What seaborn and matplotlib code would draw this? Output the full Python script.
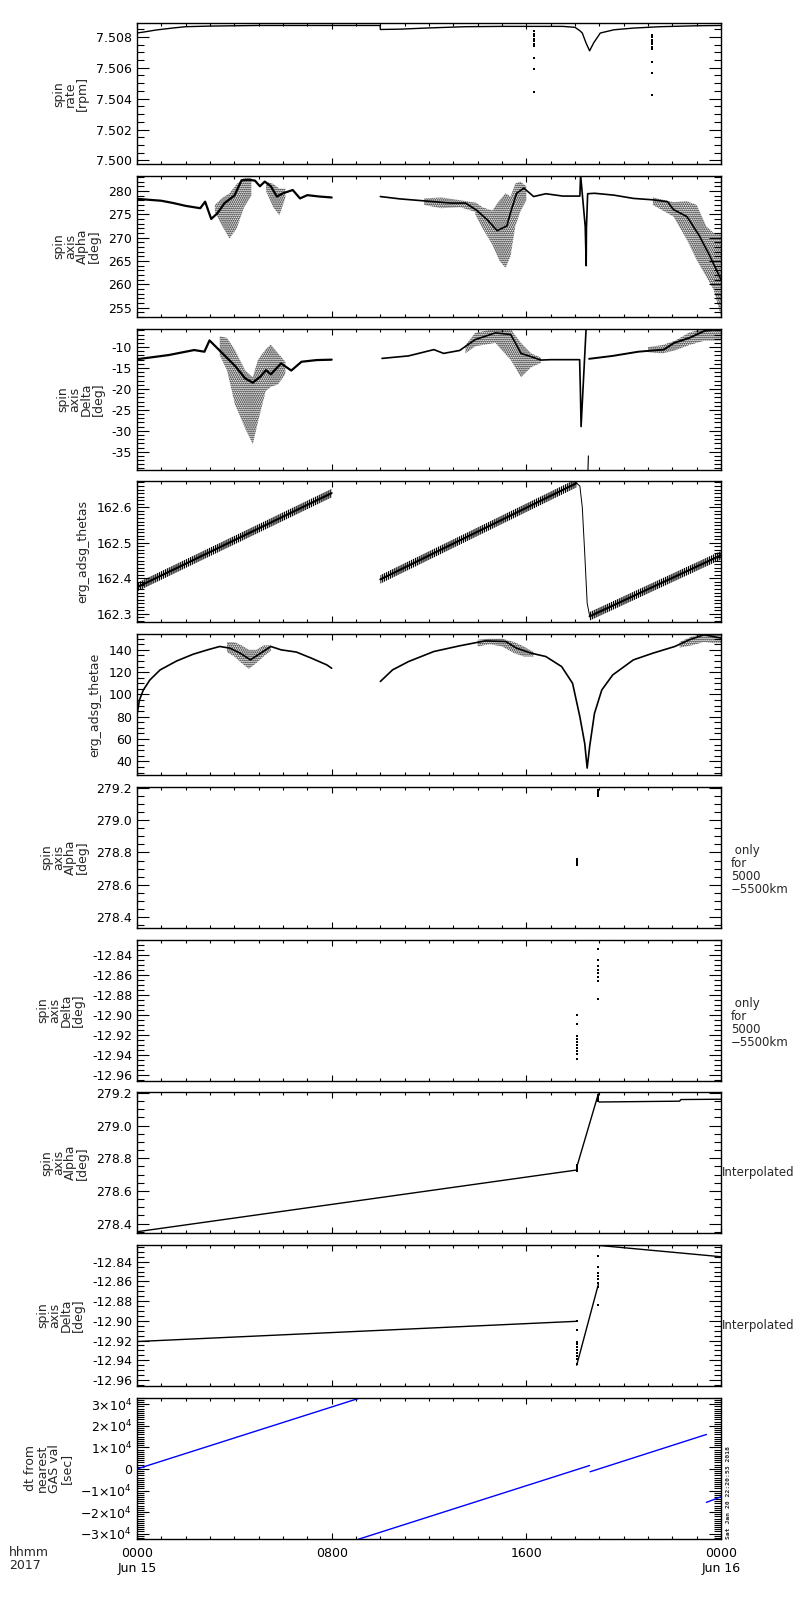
import matplotlib
matplotlib.use("Agg")
import matplotlib.pyplot as plt
import seaborn as sns
from matplotlib.ticker import MultipleLocator, FormatStrFormatter, FuncFormatter

# ---- data (time in hours of 2017-06-15) ----
rate_t = [0.0, 0.3, 0.8, 1.5, 2.0, 3.0, 5.0, 7.0, 9.99, 10.0, 10.8, 12.0, 13.5, 15.0, 16.3,
          17.5, 18.0, 18.2, 18.3, 18.45, 18.6, 18.77, 19.04, 19.6, 20.4, 21.5, 23.0, 24.0]
rate_v = [7.50825, 7.50832, 7.50845, 7.50858, 7.50866, 7.50870, 7.50874, 7.50874, 7.50874,
          7.50848, 7.50850, 7.50858, 7.50866, 7.50868, 7.50868, 7.50868, 7.50862, 7.50840,
          7.50825, 7.50762, 7.50710, 7.50762, 7.50825, 7.50846, 7.50857, 7.50866, 7.50872,
          7.50874]
rate_out1_t = [16.33, 16.33, 16.33, 16.33, 16.33, 16.33, 16.33, 16.33, 16.33, 16.33]
rate_out1_v = [7.50836, 7.50820, 7.50804, 7.50788, 7.50773, 7.50757, 7.50741, 7.50661,
               7.50592, 7.50440]
rate_out2_t = [21.15, 21.15, 21.15, 21.15, 21.15, 21.15, 21.15, 21.15, 21.15, 21.15]
rate_out2_v = [7.50815, 7.50799, 7.50783, 7.50768, 7.50752, 7.50736, 7.50720, 7.50636,
               7.50568, 7.50425]

alpha_a_t = [0.0, 0.5, 1.0, 1.5, 2.0, 2.6, 2.8, 3.05, 3.3, 3.6, 4.0, 4.3, 4.6, 4.85, 5.05,
             5.25, 5.5, 5.75, 6.0, 6.4, 6.7, 7.0, 7.5, 8.0]
alpha_a_v = [278.3, 278.1, 277.9, 277.4, 276.8, 276.3, 277.7, 274.0, 275.2, 277.4, 279.0,
             282.3, 282.4, 282.2, 281.0, 282.0, 281.0, 278.8, 279.5, 280.2, 278.4, 279.1,
             278.8, 278.6]
alpha_b_t = [10.0, 10.8, 11.5, 12.2, 12.9, 13.5, 13.95, 14.4, 14.8, 15.2, 15.33, 15.6, 15.9,
             16.3, 16.8, 17.5, 18.2, 18.23, 18.42, 18.46, 18.47, 18.52, 18.8, 19.6, 20.4,
             21.2, 21.8, 22.05, 22.6, 23.1, 23.5, 24.0]
alpha_b_v = [278.8, 278.3, 278.0, 277.7, 277.4, 277.4, 275.9, 273.8, 271.5, 272.5, 275.0,
             279.5, 280.6, 278.8, 279.4, 278.9, 278.9, 283.4, 272.4, 264.0, 272.0, 279.4,
             279.5, 279.1, 278.4, 278.1, 277.7, 276.0, 274.5, 270.5, 266.5, 261.0]
alpha_clouds = [
    ([3.2, 3.5, 3.8, 4.1, 4.4, 4.7],
     [275.5, 272.5, 269.8, 272.0, 276.5, 279.0],
     [277.0, 278.5, 279.5, 281.5, 282.8, 282.8]),
    ([5.3, 5.6, 5.85, 6.1],
     [280.0, 276.5, 274.8, 278.5],
     [282.0, 281.5, 280.5, 280.5]),
    ([11.8, 12.5, 13.3, 13.9],
     [277.0, 276.3, 276.5, 275.5],
     [278.4, 278.6, 278.0, 277.5]),
    ([13.9, 14.2, 14.6, 14.9, 15.15, 15.35, 15.55, 15.75, 16.0],
     [275.0, 272.0, 268.5, 265.0, 263.5, 266.0, 272.5, 275.5, 278.0],
     [277.6, 276.5, 275.8, 278.0, 279.5, 278.8, 281.6, 282.0, 281.0]),
    ([21.2, 22.05, 22.6, 23.0, 23.4, 23.7, 24.0],
     [277.0, 274.5, 269.5, 265.2, 261.6, 258.8, 253.2],
     [278.6, 277.6, 277.8, 277.0, 272.4, 271.0, 271.0]),
]

delta_a_t = [0.0, 1.3, 2.35, 2.77, 2.98, 3.29, 3.6, 4.03, 4.45, 4.76, 5.08, 5.3, 5.5, 5.92,
             6.34, 6.76, 7.38, 8.0]
delta_a_v = [-12.9, -11.9, -10.7, -11.1, -8.4, -10.2, -12.0, -14.5, -17.5, -18.5, -17.0,
             -15.5, -16.5, -13.9, -15.6, -13.5, -13.1, -13.0]
delta_b_t = [10.07, 11.16, 12.2, 12.6, 13.26, 13.9, 14.73, 15.36, 15.78, 16.2, 16.6, 17.0,
             18.19, 18.22, 18.25, 18.47]
delta_b_v = [-12.7, -12.1, -10.6, -11.5, -10.8, -8.2, -6.6, -7.0, -11.5, -12.3, -13.1,
             -13.0, -13.0, -20.0, -29.0, -4.0]
delta_c_t = [18.52, 18.55]
delta_c_v = [-42.0, -36.0]
delta_d_t = [18.58, 19.55, 20.6, 21.65, 22.07, 22.7, 23.33, 24.0]
delta_d_v = [-12.8, -12.1, -11.1, -10.6, -9.0, -7.8, -6.1, -5.7]
delta_clouds = [
    ([3.4, 3.7, 4.03, 4.45, 4.76, 4.97, 5.29, 5.5, 5.8, 6.1],
     [-12.0, -15.6, -23.8, -29.5, -33.2, -27.9, -20.5, -19.5, -18.9, -16.4],
     [-7.4, -7.8, -10.7, -15.6, -17.2, -13.0, -10.5, -9.4, -11.5, -13.5]),
    ([13.5, 13.9, 14.73, 15.36, 15.78, 16.2, 16.6],
     [-11.5, -9.8, -9.0, -13.1, -17.2, -14.8, -13.8],
     [-9.5, -6.6, -5.6, -5.7, -9.0, -11.5, -12.5]),
    ([21.0, 21.6, 22.1, 22.7, 23.3, 24.0],
     [-11.2, -11.5, -10.8, -9.5, -8.5, -8.5],
     [-10.0, -9.5, -8.5, -6.5, -5.6, -5.6]),
]

thetas_a_t = [0.0, 8.0]
thetas_a_v = [162.375, 162.640]
thetas_b_t = [10.0, 18.06]
thetas_b_v = [162.397, 162.668]
thetas_drop_t = [18.06, 18.2, 18.3, 18.4, 18.5, 18.6]
thetas_drop_v = [162.668, 162.660, 162.600, 162.470, 162.330, 162.295]
thetas_c_t = [18.6, 24.0]
thetas_c_v = [162.293, 162.465]
thetas_halfwidth = 0.012

thetae_a_t = [0.0, 0.1, 0.26, 0.53, 0.95, 1.63, 2.3, 2.9, 3.4, 3.82, 4.24, 4.66, 5.08, 5.5,
              5.92, 6.55, 7.17, 7.8, 8.0]
thetae_a_v = [82, 95, 104, 113, 122, 130, 136, 140, 143, 141.5, 137, 131, 137, 143, 140,
              138, 132.5, 126.5, 123.5]
thetae_b_t = [10.0, 10.5, 11.16, 12.2, 13.26, 14.3, 15.15, 15.6, 16.2, 16.8, 17.45, 17.9,
              18.2, 18.4, 18.5, 18.6, 18.8, 19.1, 19.55, 20.4, 21.2, 22.1, 22.7, 23.3, 24.0]
thetae_b_v = [111.6, 122, 129.5, 138.5, 143.6, 148, 147.5, 141.5, 137, 134, 125, 110, 80,
              56, 34, 53, 83, 104, 117.5, 131, 137, 143, 149, 153.5, 150.5]
thetae_clouds = [
    ([3.7, 4.0, 4.3, 4.6, 4.9, 5.2, 5.5],
     [138, 134, 128, 123, 128, 134, 139],
     [147, 147, 144, 140, 140, 144, 144]),
    ([14.0, 14.5, 15.0, 15.5, 15.9, 16.3],
     [143, 145, 143, 137, 134, 134],
     [149, 150, 150, 147, 143, 138]),
    ([22.3, 22.8, 23.3, 23.7, 24.0],
     [142, 144, 147, 146, 146],
     [147, 152, 154, 154, 153]),
]

# attitude values only for 5000-5500 km
only_alpha_t = [18.08, 18.08, 18.08, 18.08, 18.08, 18.08, 18.96, 18.96, 18.96, 18.96]
only_alpha_v = [278.725, 278.732, 278.739, 278.746, 278.753, 278.760,
                279.150, 279.163, 279.176, 279.190]
only_delta_t = [18.08, 18.08, 18.08, 18.08, 18.08, 18.08, 18.08, 18.08, 18.08, 18.08,
                18.96, 18.96, 18.96, 18.96, 18.96, 18.96, 18.96, 18.96]
only_delta_v = [-12.900, -12.909, -12.921, -12.924, -12.927, -12.930, -12.933, -12.936,
                -12.939, -12.944, -12.834, -12.845, -12.851, -12.855, -12.858, -12.862,
                -12.866, -12.884]

# interpolated attitude
interp_alpha = [([0.0, 18.06], [278.350, 278.728]),
                ([18.07, 18.96], [278.745, 279.195]),
                ([18.99, 22.3, 22.35, 24.0], [279.145, 279.150, 279.160, 279.162])]
interp_delta = [([0.0, 18.06], [-12.921, -12.9005]),
                ([18.07, 18.96], [-12.945, -12.863]),
                ([18.97, 24.0], [-12.8235, -12.835])]

# dt from nearest GAS value [sec]
dt_segments = [([0.0, 9.1], [0, 32700]),
               ([9.1, 18.6], [-32600, 1600]),
               ([18.62, 23.4], [-1300, 16000]),
               ([23.4, 24.0], [-15500, -12900])]

xtick_vals = [0, 8, 16, 24]
xtick_text = ["0000\nJun 15", "0800", "1600", "0000\nJun 16"]

# ---- figure ----
sns.set_style("ticks")
plt.rcParams["font.family"] = ["DejaVu Sans"]
plt.rcParams["axes.linewidth"] = 1.0
plt.rcParams["hatch.linewidth"] = 0.9

fig = plt.figure(figsize=(8, 16), dpi=100)
W, H = 800.0, 1600.0
LEFT, RIGHT = 137, 721


def make_ax(i):
    top = 23.3 + i * 152.7
    return fig.add_axes([LEFT / W, 1 - (top + 141) / H, (RIGHT - LEFT) / W, 141 / H])


def line(ax, t, v, color="k", lw=0.8):
    sns.lineplot(x=t, y=v, ax=ax, color=color, lw=lw, sort=False, estimator=None)


def cloud(ax, t, lo, hi):
    ax.fill_between(t, lo, hi, facecolor="none", edgecolor="k", hatch="........", linewidth=0)


def dots(ax, t, v, s=2.5):
    sns.scatterplot(x=t, y=v, ax=ax, color="k", s=s, marker="s", linewidth=0)


def style(ax, ylim, major, minor, fmt, label, bottom=False):
    ax.set_xlim(0, 24)
    ax.set_ylim(*ylim)
    ax.xaxis.set_major_locator(MultipleLocator(8))
    ax.xaxis.set_minor_locator(MultipleLocator(1))
    ax.yaxis.set_major_locator(MultipleLocator(major))
    ax.yaxis.set_minor_locator(MultipleLocator(minor))
    if callable(fmt):
        ax.yaxis.set_major_formatter(FuncFormatter(fmt))
    else:
        ax.yaxis.set_major_formatter(FormatStrFormatter(fmt))
    ax.tick_params(which="both", direction="in", top=True, right=True, labelsize=9,
                   width=0.8, colors="k")
    ax.tick_params(axis="y", which="major", length=8.5)
    ax.tick_params(axis="y", which="minor", length=5)
    ax.tick_params(axis="x", which="major", length=4, pad=6)
    ax.tick_params(axis="x", which="minor", length=2.5)
    if bottom:
        ax.set_xticks(xtick_vals)
        ax.set_xticklabels(xtick_text)
    else:
        ax.tick_params(axis="x", labelbottom=False)
    ax.set_xlabel("")
    ax.set_ylabel(label, fontsize=9, linespacing=0.9, labelpad=5)
    for sp in ax.spines.values():
        sp.set_visible(True)
        sp.set_color("k")


# 1 spin rate
ax = make_ax(0)
line(ax, rate_t, rate_v, lw=1.0)
dots(ax, rate_out1_t, rate_out1_v)
dots(ax, rate_out2_t, rate_out2_v)
style(ax, (7.49975, 7.50888), 0.002, 0.0005, "%.3f", "spin\nrate\n[rpm]")

# 2 spin axis alpha
ax = make_ax(1)
for t, lo, hi in alpha_clouds:
    cloud(ax, t, lo, hi)
line(ax, alpha_a_t, alpha_a_v, lw=1.6)
line(ax, alpha_b_t, alpha_b_v, lw=1.2)
style(ax, (253.0, 283.2), 5, 1, "%d", "spin\naxis\nAlpha\n[deg]")

# 3 spin axis delta
ax = make_ax(2)
for t, lo, hi in delta_clouds:
    cloud(ax, t, lo, hi)
line(ax, delta_a_t, delta_a_v, lw=1.6)
line(ax, delta_b_t, delta_b_v, lw=1.2)
line(ax, delta_c_t, delta_c_v, lw=0.8)
line(ax, delta_d_t, delta_d_v, lw=1.4)
style(ax, (-39.3, -5.6), 5, 1, "%d", "spin\naxis\nDelta\n[deg]")

# 4 thetas
ax = make_ax(3)
for t, v in [(thetas_a_t, thetas_a_v), (thetas_b_t, thetas_b_v), (thetas_c_t, thetas_c_v)]:
    lo = [x - thetas_halfwidth for x in v]
    hi = [x + thetas_halfwidth for x in v]
    ax.fill_between(t, lo, hi, facecolor="none", edgecolor="k", hatch="||||||||", linewidth=0)
    line(ax, t, v, lw=1.5)
line(ax, thetas_drop_t, thetas_drop_v, lw=0.7)
style(ax, (162.276, 162.673), 0.1, 0.01, "%.1f", "erg_adsg_thetas")

# 5 thetae
ax = make_ax(4)
for t, lo, hi in thetae_clouds:
    cloud(ax, t, lo, hi)
line(ax, thetae_a_t, thetae_a_v, lw=1.2)
line(ax, thetae_b_t, thetae_b_v, lw=1.2)
style(ax, (27.7, 154.1), 20, 5, "%d", "erg_adsg_thetae")

# 6 alpha only 5000-5500 km
ax = make_ax(5)
dots(ax, only_alpha_t, only_alpha_v)
style(ax, (278.332, 279.208), 0.2, 0.05, "%.1f", "spin\naxis\nAlpha\n[deg]")

# 7 delta only 5000-5500 km
ax = make_ax(6)
dots(ax, only_delta_t, only_delta_v)
style(ax, (-12.966, -12.8247), 0.02, 0.005, "%.2f", "spin\naxis\nDelta\n[deg]")

# 8 interpolated alpha
ax = make_ax(7)
for t, v in interp_alpha:
    line(ax, t, v, lw=1.0)
dots(ax, only_alpha_t, only_alpha_v)
style(ax, (278.341, 279.205), 0.2, 0.05, "%.1f", "spin\naxis\nAlpha\n[deg]")

# 9 interpolated delta
ax = make_ax(8)
for t, v in interp_delta:
    line(ax, t, v, lw=1.0)
dots(ax, only_delta_t, only_delta_v)
style(ax, (-12.966, -12.823), 0.02, 0.005, "%.2f", "spin\naxis\nDelta\n[deg]")


def sci(v, pos):
    n = int(round(v / 1e4))
    if n == 0:
        return "0"
    return r"$%d{\times}10^{4}$" % n


# 10 dt from nearest GAS
ax = make_ax(9)
for t, v in dt_segments:
    line(ax, t, v, color="#0000ff", lw=1.0)
style(ax, (-32300, 33100), 10000, 1000, sci, "dt from\nnearest\nGAS val\n[sec]", bottom=True)

# right-hand notes
for i in (5, 6):
    mid = 23.3 + i * 152.7 + 70.5 + 13
    fig.text(731 / W, 1 - mid / H, " only\nfor\n5000\n\u22125500km", fontsize=8.5,
             linespacing=1.0, ha="left", va="center")
for i in (7, 8):
    mid = 23.3 + i * 152.7 + 70.5 + 10
    fig.text(722 / W, 1 - mid / H, "Interpolated", fontsize=8.5, ha="left", va="center")

fig.text(9 / W, 1 - 1546 / H, "hhmm\n2017", fontsize=9, linespacing=1.0, ha="left", va="top")
fig.text(726 / W, 1 - 1539 / H, "Sat Jan 20 22:20:53 2018", fontsize=4.6, rotation=90,
         family="DejaVu Sans Mono", fontweight="bold", ha="left", va="bottom")

fig.savefig("out.png", dpi=100, facecolor="white")
